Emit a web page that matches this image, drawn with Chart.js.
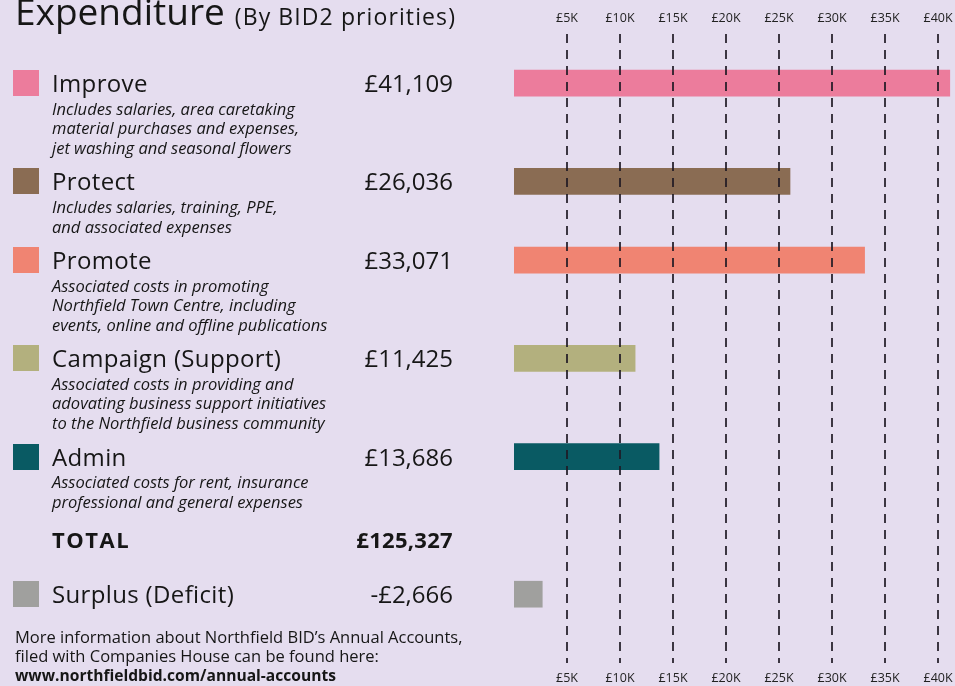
<!DOCTYPE html>
<html>
<head>
<meta charset="utf-8">
<script src="https://cdn.jsdelivr.net/npm/chart.js@4/dist/chart.umd.min.js"></script>
<style>
  body { margin: 0; background: #e5ddef; font-family: 'Open Sans', sans-serif; color: #161616; }
  #wrap { position: relative; width: 955px; height: 686px; overflow: hidden; }
  #chart { position: absolute; left: 0; top: 0; }
  #title { position: absolute; left: 15px; top: -15px; white-space: nowrap; }
  #title .big { font-size: 37px; }
  #title .sub { font-size: 23px; letter-spacing: 1.1px; margin-left: 10px; }
  .sq { position: absolute; left: 13px; width: 26px; height: 26px; }
  .name { position: absolute; left: 52px; font-size: 24px; line-height: 26px; white-space: nowrap; letter-spacing: 0.35px; }
  .amt { position: absolute; left: 0; width: 453px; text-align: right; font-size: 24px; line-height: 26px; }
  .desc { position: absolute; left: 52px; font-size: 16.5px; font-style: italic; white-space: nowrap; }
  .bold { font-weight: 700; font-size: 22px; }
  .name.bold { letter-spacing: 1.5px; }
  .amt.bold { letter-spacing: 0.3px; }
  #footer { position: absolute; left: 15px; top: 627px; font-size: 16.5px; line-height: 19px; white-space: nowrap; }
  #footer b { font-size: 15.6px; }
</style>
</head>
<body>
<div id="wrap">
  <canvas id="chart" width="955" height="686"></canvas>
  <div id="title"><span class="big">Expenditure</span><span class="sub">(By BID2 priorities)</span></div>
  <div id="rows"></div>
  <div id="footer">More information about Northfield BID’s Annual Accounts,<br>filed with Companies House can be found here:<br><b>www.northfieldbid.com/annual-accounts</b></div>
</div>
<script>
const categories = ['Improve', 'Protect', 'Promote', 'Campaign (Support)', 'Admin'];
const amounts = [41109, 26036, 33071, 11425, 13686];
const descriptions = [
  ['Includes salaries, area caretaking', 'material purchases and expenses,', 'jet washing and seasonal flowers'],
  ['Includes salaries, training, PPE,', 'and associated expenses'],
  ['Associated costs in promoting', 'Northfield Town Centre, including', 'events, online and offline publications'],
  ['Associated costs in providing and', 'adovating business support initiatives', 'to the Northfield business community'],
  ['Associated costs for rent, insurance', 'professional and general expenses']
];
const colours = ['#ec7c9c', '#8a6c53', '#f08472', '#b3b07e', '#095a63'];
const totalLabel = 'TOTAL';
const totalAmount = 125327;
const surplusLabel = 'Surplus (Deficit)';
const surplusAmount = -2666;
const surplusColour = '#a0a09e';
const tickValues = [5000, 10000, 15000, 20000, 25000, 30000, 35000, 40000];
const tickLabels = ['£5K', '£10K', '£15K', '£20K', '£25K', '£30K', '£35K', '£40K'];

// one slot per text line on the left, bars sit on the title lines
const slotLabels = ['', ''];
const slotValues = [null, null];
const slotColours = ['transparent', 'transparent'];
function addSlots(label, value, colour, extra) {
  const idx = slotLabels.length;
  slotLabels.push(label); slotValues.push(value); slotColours.push(colour);
  for (let k = 0; k < extra; k++) { slotLabels.push(''); slotValues.push(null); slotColours.push('transparent'); }
  return idx;
}
const rowSlots = categories.map((c, i) => addSlots(c, amounts[i], colours[i], descriptions[i].length + 1));
const totalSlot = addSlots(totalLabel, null, 'transparent', 2);
const surplusSlot = addSlots(surplusLabel, Math.abs(surplusAmount), surplusColour, 0);
while (slotLabels.length < 32) addSlots('', null, 'transparent', 0);

const fmt = v => (v < 0 ? '-£' : '£') + Math.abs(v).toLocaleString('en-GB');
const setTicks = axis => { axis.ticks = tickValues.map(v => ({ value: v })); };
const fitAxis = h => axis => { axis.height = h; axis.paddingLeft = 0; axis.paddingRight = 0; };
const tickOpts = {
  color: '#222',
  font: { family: 'Open Sans, sans-serif', size: 12.5 },
  padding: 8,
  callback: (v, i) => tickLabels[i]
};

const chart = new Chart(document.getElementById('chart'), {
  type: 'bar',
  data: {
    labels: slotLabels,
    datasets: [{
      data: slotValues,
      backgroundColor: slotColours,
      barThickness: 26,
      xAxisID: 'x'
    }]
  },
  options: {
    indexAxis: 'y',
    responsive: false,
    animation: false,
    layout: { padding: { left: 514, right: 0, top: 0, bottom: 0 } },
    plugins: { legend: { display: false }, tooltip: { enabled: false } },
    scales: {
      y: { type: 'category', display: false, offset: true },
      x: {
        type: 'linear', position: 'top', min: 0, max: 41600,
        afterBuildTicks: setTicks,
        afterFit: fitAxis(34),
        grid: { z: 1, color: 'rgba(30,25,35,0.85)', lineWidth: 2, drawTicks: false },
        border: { display: false, dash: [9, 7] },
        ticks: tickOpts
      },
      x2: {
        type: 'linear', position: 'bottom', min: 0, max: 41600,
        afterBuildTicks: setTicks,
        afterFit: fitAxis(23),
        grid: { display: false, drawTicks: false },
        border: { display: false },
        ticks: tickOpts
      }
    }
  }
});

// left hand text, placed on the same slots as the bars
const yScale = chart.scales.y;
const pitch = yScale.getPixelForValue(1) - yScale.getPixelForValue(0);
const rows = document.getElementById('rows');
function el(cls, top, html, extra) {
  const d = document.createElement('div');
  d.className = cls;
  d.style.top = top + 'px';
  d.innerHTML = html;
  if (extra) Object.assign(d.style, extra);
  rows.appendChild(d);
}
function addRow(label, amount, colour, lines, slot) {
  const yc = yScale.getPixelForValue(slot);
  el('sq', yc - 13, '', { background: colour });
  el('name', yc - 13, label);
  el('amt', yc - 13, fmt(amount));
  if (lines.length) el('desc', yc + 15.5, lines.join('<br>'), { lineHeight: pitch + 'px' });
}
categories.forEach((c, i) => addRow(c, amounts[i], colours[i], descriptions[i], rowSlots[i]));
const yt = yScale.getPixelForValue(totalSlot);
el('name bold', yt - 9, totalLabel);
el('amt bold', yt - 9, fmt(totalAmount));
addRow(surplusLabel, surplusAmount, surplusColour, [], surplusSlot);
</script>
</body>
</html>
